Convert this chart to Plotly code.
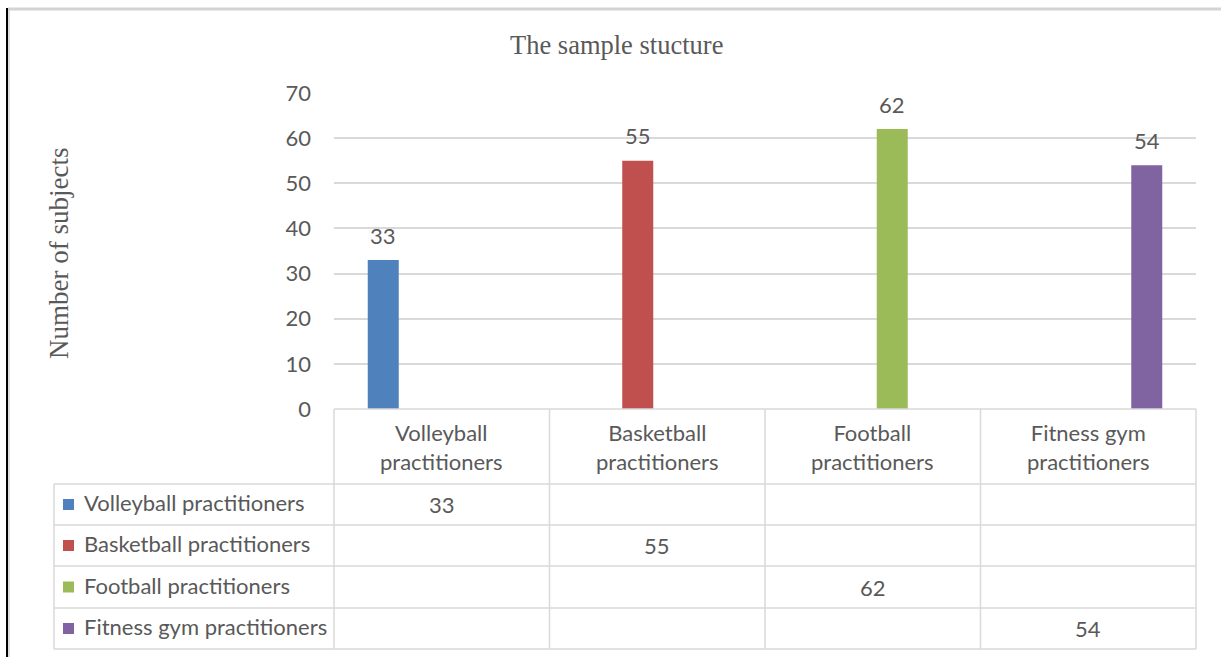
import plotly.graph_objects as go

# ---- data ----
categories = ["Volleyball practitioners", "Basketball practitioners",
              "Football practitioners", "Fitness gym practitioners"]
header_labels = ["Volleyball<br>practitioners", "Basketball<br>practitioners",
                 "Football<br>practitioners", "Fitness gym<br>practitioners"]
values = [33, 55, 62, 54]
colors = ["#4F81BD", "#C0504D", "#9BBB59", "#8064A2"]
title_text = "The sample stucture"
y_title = "Number of subjects"
y_ticks = [0, 10, 20, 30, 40, 50, 60, 70]

# ---- layout geometry (pixels) ----
W, H = 1221, 657
PL, PR, PT, PB = 334, 1196, 93, 409
SANS = "Lato"
SERIF = "Liberation Serif"
TXT = "#595959"
GRID = "#d9d9d9"
FS = 22


def px(x):
    return (x - PL) / (PR - PL)


def py(y):
    return (PB - y) / (PB - PT)


fig = go.Figure()
n = len(categories)
for i, cat in enumerate(categories):
    yv = [values[i] if j == i else None for j in range(n)]
    fig.add_trace(go.Bar(x=categories, y=yv, name=cat, marker_color=colors[i],
                         marker_line_width=0, showlegend=False))

annotations = []
shapes = []

# bar data labels
slot = (1 - 0.276) * (PR - PL) / n / n
for i in range(n):
    annotations.append(dict(x=categories[i], y=values[i], xref="x", yref="y",
                            text=str(values[i]), showarrow=False,
                            xanchor="center",
                            xshift=(i - (n - 1) / 2) * slot, yshift=25,
                            yanchor="middle",
                            font=dict(family=SANS, size=FS, color=TXT)))

# header labels (category row of table)
for i in range(n):
    annotations.append(dict(x=categories[i], y=py(447), xref="x", yref="paper",
                            text=header_labels[i], showarrow=False,
                            xanchor="center", yanchor="middle",
                            font=dict(family=SANS, size=FS, color=TXT)))

# table rows
row_lines = [484, 525, 566, 608, 649]
for i in range(n):
    yc = (row_lines[i] + row_lines[i + 1]) / 2
    # legend key
    shapes.append(dict(type="rect", xref="paper", yref="paper",
                       x0=px(63), x1=px(74), y0=py(yc - 5.5), y1=py(yc + 5.5),
                       fillcolor=colors[i], line_width=0))
    annotations.append(dict(x=px(82), y=py(yc - 2), xref="paper", yref="paper",
                            text=categories[i], showarrow=False,
                            xanchor="left", yanchor="middle",
                            font=dict(family=SANS, size=FS, color=TXT)))
    annotations.append(dict(x=categories[i], y=py(yc), xref="x", yref="paper",
                            text=str(values[i]), showarrow=False,
                            xanchor="center", yanchor="middle",
                            font=dict(family=SANS, size=FS, color=TXT)))

# table lines
def hline(y, x0, x1):
    shapes.append(dict(type="line", xref="paper", yref="paper",
                       x0=px(x0), x1=px(x1), y0=py(y), y1=py(y),
                       line=dict(color=GRID, width=1.5)))


def vline(x, y0, y1):
    shapes.append(dict(type="line", xref="paper", yref="paper",
                       x0=px(x), x1=px(x), y0=py(y0), y1=py(y1),
                       line=dict(color=GRID, width=1.5)))


hline(PB, PL, PR)
for y in row_lines:
    hline(y, 54, PR)
vline(54, 484, 649)
colw = (PR - PL) / n
for k in range(n + 1):
    vline(PL + k * colw, PB, 649)

# outer frame
shapes.append(dict(type="line", xref="paper", yref="paper",
                   x0=px(8), x1=px(W), y0=py(9), y1=py(9),
                   line=dict(color="#d4d4d4", width=3)))
shapes.append(dict(type="line", xref="paper", yref="paper",
                   x0=px(7), x1=px(7), y0=py(8), y1=py(H + 2),
                   line=dict(color="#000000", width=2)))
shapes.append(dict(type="line", xref="paper", yref="paper",
                   x0=px(9), x1=px(9), y0=py(10), y1=py(H + 2),
                   line=dict(color="#d4d4d4", width=1.5)))

# title and y-axis title
annotations.append(dict(x=px(616), y=py(45), xref="paper", yref="paper",
                        text=title_text, showarrow=False,
                        xanchor="center", yanchor="middle",
                        font=dict(family=SERIF, size=26.5, color=TXT)))
annotations.append(dict(x=px(59), y=py(254), xref="paper", yref="paper",
                        text=y_title, showarrow=False, textangle=-90,
                        xanchor="center", yanchor="middle",
                        font=dict(family=SERIF, size=27, color=TXT)))

fig.update_layout(
    width=W, height=H,
    margin=dict(l=PL, r=W - PR, t=PT, b=H - PB, pad=0),
    paper_bgcolor="white", plot_bgcolor="white",
    barmode="group", bargap=0.276, bargroupgap=0.205,
    xaxis=dict(showticklabels=False, showgrid=False, zeroline=False,
               showline=False, ticks=""),
    yaxis=dict(range=[0, 70], tickvals=y_ticks, showgrid=True,
               gridcolor=GRID, gridwidth=1.5, zeroline=False, showline=False,
               ticks="", ticklabelstandoff=22,
               tickfont=dict(family=SANS, size=FS, color=TXT)),
    annotations=annotations, shapes=shapes,
)

fig.write_html("out.html")
